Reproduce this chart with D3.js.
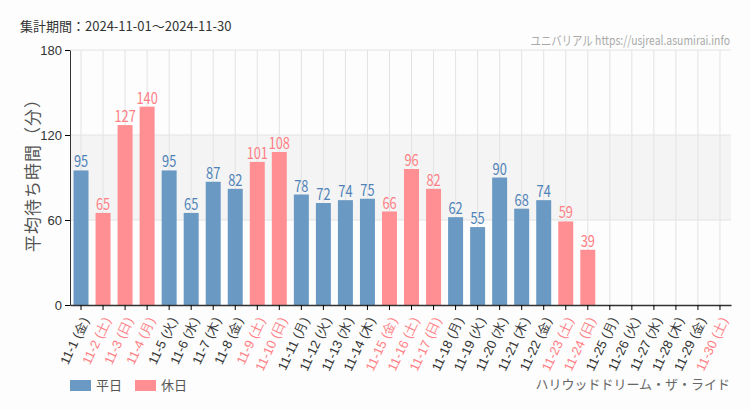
<!DOCTYPE html>
<html><head><meta charset="utf-8">
<script src="https://cdn.jsdelivr.net/npm/d3@7"></script>
<style>
body{margin:0;background:#fcfdfc;}
svg{display:block;font-family:"Noto Sans CJK JP","Noto Sans",sans-serif;}
</style></head><body>
<svg id="c" width="750" height="410"></svg>
<script>
const dates = ["11-1","11-2","11-3","11-4","11-5","11-6","11-7","11-8","11-9","11-10","11-11","11-12","11-13","11-14","11-15","11-16","11-17","11-18","11-19","11-20","11-21","11-22","11-23","11-24","11-25","11-26","11-27","11-28","11-29","11-30"];
const weekdays = ["金","土","日","月","火","水","木","金","土","日","月","火","水","木","金","土","日","月","火","水","木","金","土","日","月","火","水","木","金","土"];
const holidays = [0,1,1,1,0,0,0,0,1,1,0,0,0,0,1,1,1,0,0,0,0,0,1,1,0,0,0,0,0,1];
const waits = [95,65,127,140,95,65,87,82,101,108,78,72,74,75,66,96,82,62,55,90,68,74,59,39,null,null,null,null,null,null];
const yTicks = [0,60,120,180];

const svg = d3.select("#c");
const m = {l:70, r:731, t:50, b:305};
const labels = dates.map((d,i)=>`${d} (${weekdays[i]})`);
const x = d3.scaleBand().domain(labels).range([m.l, m.r]).paddingInner(0.32).paddingOuter(0.16);
const y = d3.scaleLinear().domain([0,180]).range([m.b, m.t]);
const blue = "#6a9ac4", pink = "#ff8f93";
const blueT = "#4f82b8", pinkT = "#ff7f86";

svg.append("rect").attr("x", m.l).attr("width", m.r-m.l).attr("y", y(120)).attr("height", y(60)-y(120)).attr("fill","#f3f4f3");
svg.append("g").selectAll("line").data(labels).join("line")
  .attr("x1", d=>x(d)+x.bandwidth()/2).attr("x2", d=>x(d)+x.bandwidth()/2)
  .attr("y1", m.t).attr("y2", m.b).attr("stroke","#e3e3e3");
svg.append("g").selectAll("line").data(yTicks.slice(1)).join("line")
  .attr("x1", m.l).attr("x2", m.r).attr("y1", d=>y(d)).attr("y2", d=>y(d)).attr("stroke","#e3e3e3");

const data = labels.map((l,i)=>({l, v:waits[i], h:holidays[i]})).filter(d=>d.v!=null);
svg.append("g").selectAll("rect").data(data).join("rect")
  .attr("x", d=>x(d.l)).attr("width", x.bandwidth())
  .attr("y", d=>y(d.v)).attr("height", d=>y(0)-y(d.v))
  .attr("fill", d=>d.h?pink:blue);
svg.append("g").selectAll("text").data(data).join("text")
  .attr("transform", d=>`translate(${x(d.l)+x.bandwidth()/2},${y(d.v)-3}) scale(0.8,1)`)
  .attr("text-anchor","middle")
  .attr("font-size", 16).attr("fill", d=>d.h?pinkT:blueT).text(d=>d.v);

const ya = svg.append("g").attr("transform",`translate(${m.l},0)`).call(d3.axisLeft(y).tickValues(yTicks).tickSize(5).tickSizeOuter(0));
ya.select(".domain").attr("stroke","#333");
ya.selectAll("text").attr("font-size",13).attr("fill","#333");
const xa = svg.append("g").attr("transform",`translate(0,${m.b})`).call(d3.axisBottom(x).tickSize(5).tickSizeOuter(0));
xa.select(".domain").attr("stroke","#333").attr("stroke-width",1.5);
xa.selectAll("text").attr("font-size",13).attr("text-anchor","end")
  .attr("fill",(d,i)=>holidays[i]?pinkT:"#333")
  .attr("transform","translate(4,13) rotate(-65)").attr("dx",0).attr("dy","0.35em").attr("y",0);

svg.append("text").attr("x",20).attr("y",31).attr("font-size",13).attr("fill","#333").text("集計期間：2024-11-01～2024-11-30");
svg.append("text").attr("transform","translate(730,45) scale(0.8,1)").attr("text-anchor","end").attr("font-size",13).attr("fill","#aaa")
  .text("ユニバリアル  https://usjreal.asumirai.info");
svg.append("text").attr("transform",`translate(39,171) rotate(-90)`).attr("text-anchor","middle")
  .attr("font-size",17).attr("letter-spacing",1).attr("fill","#555").text("平均待ち時間（分）");
svg.append("text").attr("x",730).attr("y",389).attr("text-anchor","end").attr("font-size",13).attr("fill","#666").text("ハリウッドドリーム・ザ・ライド");

const leg = [{n:"平日",c:blue},{n:"休日",c:pink}];
const lg = svg.append("g").selectAll("g").data(leg).join("g").attr("transform",(d,i)=>`translate(${70+i*65},380)`);
lg.append("rect").attr("width",21).attr("height",11).attr("fill",d=>d.c);
lg.append("text").attr("x",26).attr("y",10).attr("font-size",13).attr("fill","#555").text(d=>d.n);
</script></body></html>
